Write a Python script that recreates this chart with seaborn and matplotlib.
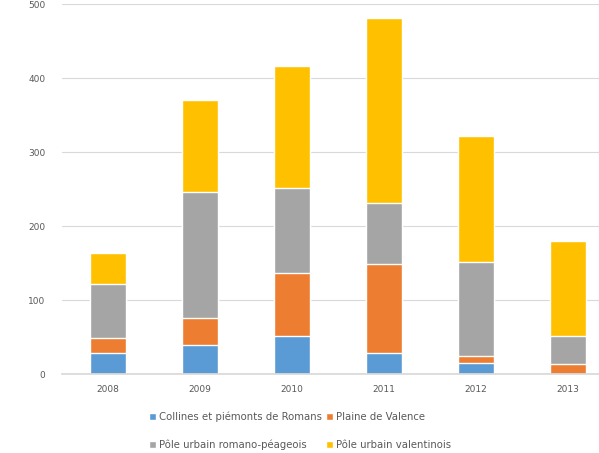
import seaborn as sns
import matplotlib.pyplot as plt
import numpy as np

# 数据
years = ['2008', '2009', '2010', '2011', '2012', '2013']
collines = [28, 39, 51, 28, 15, 0]
plaine = [21, 37, 86, 120, 9, 13]
romano = [73, 170, 114, 83, 127, 38]
valentinois = [41, 124, 165, 250, 171, 129]

labels = ['Collines et piémonts de Romans', 'Plaine de Valence',
          'Pôle urbain romano-péageois', 'Pôle urbain valentinois']
colors = ['#5B9BD5', '#ED7D31', '#A5A5A5', '#FFC000']

sns.set_theme(style='white')
plt.rcParams['font.family'] = ['DejaVu Sans']

fig = plt.figure(figsize=(5.99, 4.53), dpi=100)
ax = fig.add_axes([62/599, 79/453, 552/599, 370/453])

series = [collines, plaine, romano, valentinois]
cums = np.cumsum(np.array(series), axis=0)

# 从上往下画累计值, 得到堆叠效果
for i in range(3, -1, -1):
    sns.barplot(x=years, y=cums[i], color=colors[i], width=0.4, ax=ax,
                saturation=1, label=labels[i], zorder=2)

ax.set_ylim(0, 500)
ax.set_yticks([0, 100, 200, 300, 400, 500])
ax.grid(axis='y', color='#d9d9d9', linewidth=0.8, zorder=0)
for s in ['top', 'right', 'left']:
    ax.spines[s].set_visible(False)
ax.spines['bottom'].set_color('#d9d9d9')
ax.tick_params(axis='both', labelsize=6.5, colors='#595959', length=0, pad=12)
ax.tick_params(axis='x', pad=8)
ax.set_xlabel('')
ax.set_ylabel('')

h, l = ax.get_legend_handles_labels()
ax.get_legend().remove()
d = dict(zip(l, h))
order = [labels[0], labels[2], labels[1], labels[3]]
fig.legend([d[k] for k in order], order, ncol=2, loc='center',
           bbox_to_anchor=(300/599, 1 - 431/453), frameon=False,
           fontsize=7.3, labelcolor='#595959', handlelength=0.7,
           handleheight=0.7, handletextpad=0.3, columnspacing=0.4,
           labelspacing=1.75)

fig.savefig('out.png', dpi=100)
